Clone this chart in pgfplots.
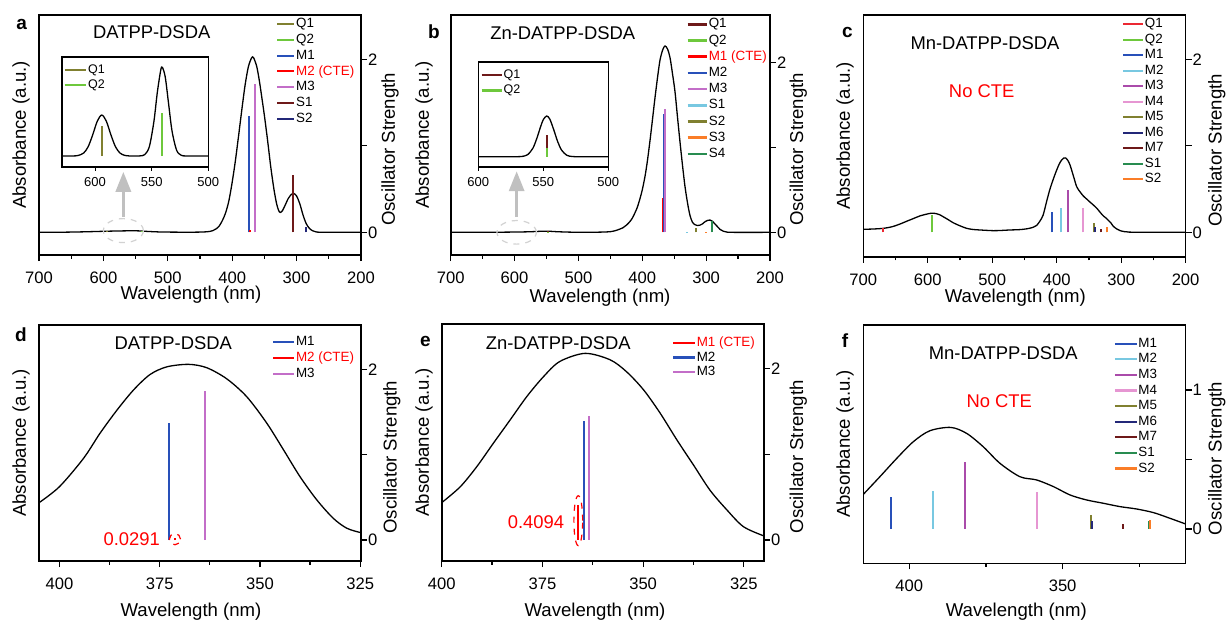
\documentclass[border=0pt]{standalone}
\usepackage{fontspec}
\setmainfont{Liberation Sans}
\usepackage{pgfplots}
\pgfplotsset{compat=1.18}
\usetikzlibrary{arrows.meta}

\definecolor{cOlive}{RGB}{128,128,48}
\definecolor{cLGreen}{RGB}{110,200,60}
\definecolor{cBlue}{RGB}{40,80,185}
\definecolor{cRed}{RGB}{255,0,0}
\definecolor{cMag}{RGB}{195,110,200}
\definecolor{cMaroon}{RGB}{110,25,25}
\definecolor{cNavy}{RGB}{35,40,120}
\definecolor{cLBlue}{RGB}{120,200,225}
\definecolor{cOrange}{RGB}{250,125,40}
\definecolor{cTeal}{RGB}{40,140,80}
\definecolor{cPurple}{RGB}{170,75,170}
\definecolor{cPink}{RGB}{230,150,210}
\definecolor{cQred}{RGB}{235,40,50}
\definecolor{cArrow}{RGB}{192,192,192}
\definecolor{cEll}{RGB}{210,210,210}

\newcommand\fLab{\fontsize{9.3}{11}\selectfont}
\newcommand\fTick{\fontsize{8.3}{10}\selectfont}
\newcommand\fLeg{\fontsize{6.7}{8}\selectfont}
\newcommand\fTitle{\fontsize{9.2}{11}\selectfont}
\newcommand\fIns{\fontsize{6.5}{8}\selectfont}
\newcommand\fInsLeg{\fontsize{6.25}{7.5}\selectfont}
\newcommand\fLet{\fontsize{9.5}{11}\selectfont\bfseries}

\pgfplotsset{
  mainax/.style={
    scale only axis, anchor=south west, x dir=reverse,
    axis line style={line width=0.8pt},
    every tick/.style={black, line width=0.6pt},
    tick align=outside, major tick length=3pt, minor tick length=1.8pt,
    xtick pos=left, ytick pos=right, yticklabel pos=right,
    ticklabel style={font=\fTick},
    xticklabel style={yshift=-2pt},
    yticklabel style={xshift=-3pt},
    /pgf/number format/assume math mode=true,
    legend cell align=left,
  },
  insax/.style={
    scale only axis, anchor=south west, x dir=reverse,
    axis line style={line width=0.8pt},
    every tick/.style={black, line width=0.5pt},
    tick align=outside, major tick length=2pt,
    xtick pos=left, ytick=\empty,
    ticklabel style={font=\fIns},
    /pgf/number format/assume math mode=true,
    axis background/.style={fill=white},
    legend cell align=left,
  },
  stick/.style={line width=1pt, color=#1},
  curve/.style={black, line width=0.65pt, smooth, forget plot},
}

\begin{document}
\begin{tikzpicture}
\useasboundingbox (0pt,0pt) rectangle (613pt,-311pt);

% ---------------- panel a ----------------
\begin{axis}[mainax, at={(19.5pt,-127.5pt)}, width=161pt, height=120pt,
  xmin=200, xmax=700, ymin=-0.262, ymax=2.512,
  xtick={200,300,400,500,600,700}, minor xtick={250,350,450,550,650},
  ytick={0,1,2}, yticklabels={0,,2},
  legend image code/.code={\draw[#1] (0pt,0pt) -- (8.5pt,0pt);},
  legend style={at={(0.736,0.992)}, anchor=north west, draw=none, fill=none, inner sep=0pt, font=\fLeg, row sep=0.85pt, nodes={inner sep=0.4pt, text height=4.9pt, text depth=1.3pt}}]
\addplot[curve] coordinates {(700,0) (660,0.002) (630,0.006) (600,0.012) (575,0.016) (550,0.018) (530,0.01) (510,0.004) (480,0.002) (460,0.002) (445,0.004) (435,0.01) (430,0.02) (425,0.04) (420,0.075) (415,0.14) (410,0.23) (405,0.37) (400,0.58) (395,0.83) (390,1.12) (385,1.42) (380,1.70) (375,1.91) (370,2.015) (367,2.02) (362,1.92) (358,1.76) (355,1.61) (350,1.35) (345,1.06) (340,0.75) (335,0.49) (331,0.33) (328,0.255) (325.5,0.23) (322,0.25) (318,0.31) (313,0.39) (308,0.44) (304.5,0.45) (300,0.42) (295,0.33) (290,0.2) (285,0.1) (280,0.045) (275,0.018) (270,0.006) (260,0.001) (200,0)};
\addplot[stick=cOlive] coordinates {(594,0) (594,0.012)};
\addplot[stick=cLGreen] coordinates {(540.6,0) (540.6,0.02)};
\addplot[stick=cBlue] coordinates {(374.5,0) (374.5,1.35)};
\addplot[stick=cRed] coordinates {(372.4,0) (372.4,0.0291)};
\addplot[stick=cMag] coordinates {(364.8,0) (364.8,1.72)};
\addplot[stick=cMaroon] coordinates {(305.5,0) (305.5,0.66)};
\addplot[stick=cNavy] coordinates {(285.8,0) (285.8,0.06)};
\legend{Q1,Q2,M1,\textcolor{red}{M2 (CTE)},M3,S1,S2}
\draw[cEll, dashed, line width=0.6pt] (axis cs:569,0.02) ellipse [x radius=10pt, y radius=6pt];
\draw[cArrow, line width=1.6pt, -{Triangle[width=7.5pt,length=10pt]}] (axis cs:569,0.18) -- (axis cs:569,0.70);
\end{axis}

% inset a
\begin{axis}[insax, at={(30.85pt,-83.35pt)}, width=73.3pt, height=55pt,
  xmin=500, xmax=629.4, ymin=-10.7, ymax=99.3, xtick={500,550,600},
  legend image code/.code={\draw[#1] (0pt,0pt) -- (10.8pt,0pt);},
  legend style={at={(0.011,0.94)}, anchor=north west, draw=none, fill=none, inner sep=0pt, font=\fInsLeg, row sep=0.5pt, nodes={inner sep=0.4pt, text height=4.7pt, text depth=1.2pt}}]
\addplot[curve] coordinates {(629.4,0) (620,0.04) (615,0.5) (610,3.0) (606,9.4) (602,21.3) (598,34.8) (594,41) (590,34.8) (586,21.3) (582,9.4) (578,3.0) (574,0.7) (570,0.1) (565,0) (560,0.14) (556,1.5) (552,9.5) (548,34.6) (545,63.6) (542,85.8) (540.6,88.7) (538,79.0) (535,51.8) (532,24.9) (528,5.8) (524,0.8) (520,0.06) (510,0) (500,0)};
\addplot[stick=cOlive] coordinates {(594,0) (594,30)};
\addplot[stick=cLGreen] coordinates {(540.6,0) (540.6,43.3)};
\legend{Q1,Q2}
\end{axis}

% ---------------- panel b ----------------
\begin{axis}[mainax, at={(225.35pt,-127.5pt)}, width=159.65pt, height=120pt,
  xmin=200, xmax=700, ymin=-0.267, ymax=2.56,
  xtick={200,300,400,500,600,700}, minor xtick={250,350,450,550,650},
  ytick={0,1,2}, yticklabels={0,,2},
  legend image code/.code={\draw[#1, line width=1.3pt] (0pt,0pt) -- (9.5pt,0pt);},
  legend style={at={(0.737,0.992)}, anchor=north west, draw=none, fill=none, inner sep=0pt, font=\fLeg, row sep=1.1pt, nodes={inner sep=0.4pt, text height=4.9pt, text depth=1.3pt}}]
\addplot[curve] coordinates {(700,0) (620,0.002) (580,0.006) (560,0.012) (548,0.014) (535,0.008) (510,0.002) (470,0.002) (450,0.008) (440,0.025) (430,0.055) (424,0.09) (418,0.14) (414,0.19) (408,0.29) (403.5,0.40) (400,0.50) (395.7,0.66) (392,0.84) (387.9,1.08) (384,1.33) (380,1.59) (376,1.83) (372.2,2.03) (368,2.15) (364.4,2.195) (360.5,2.16) (356.6,2.06) (352.7,1.87) (348.8,1.66) (345,1.37) (341,1.07) (337,0.79) (333.1,0.54) (329,0.34) (325.3,0.2) (321.5,0.12) (317.4,0.09) (313.5,0.08) (309.6,0.085) (305.7,0.1) (301.8,0.125) (298,0.14) (294,0.145) (290,0.13) (286.1,0.098) (282,0.065) (278.3,0.035) (273,0.013) (267.8,0.004) (260,0) (200,0)};
\addplot[stick=cMaroon] coordinates {(547,0) (547,0.01)};
\addplot[stick=cLGreen] coordinates {(547,0) (547,0.005)};
\addplot[stick=cRed] coordinates {(367,0) (367,0.4094)};
\addplot[stick=cBlue] coordinates {(365.4,0) (365.4,1.39)};
\addplot[stick=cMag] coordinates {(364,0) (364,1.45)};
\addplot[stick=cLBlue] coordinates {(330,0) (330,0.004)};
\addplot[stick=cOlive] coordinates {(315.5,0) (315.5,0.055)};
\addplot[stick=cOrange] coordinates {(300,0) (300,0.006)};
\addplot[stick=cTeal] coordinates {(291.3,0) (291.3,0.13)};
\legend{Q1,Q2,\textcolor{red}{M1 (CTE)},M2,M3,S1,S2,S3,S4}
\draw[cEll, dashed, line width=0.6pt] (axis cs:596.7,0) ellipse [x radius=9.85pt, y radius=5.9pt];
\draw[cArrow, line width=1.6pt, -{Triangle[width=7.5pt,length=10pt]}] (axis cs:596.7,0.18) -- (axis cs:596.7,0.72);
\end{axis}

% inset b
\begin{axis}[insax, at={(239.15pt,-83.35pt)}, width=65pt, height=52.5pt,
  xmin=500, xmax=600, ymin=-10, ymax=95, xtick={500,550,600},
  legend image code/.code={\draw[#1, line width=1.2pt] (0pt,0pt) -- (10pt,0pt);},
  legend style={at={(0.013,0.943)}, anchor=north west, draw=none, fill=none, inner sep=0pt, font=\fInsLeg, row sep=1.1pt, nodes={inner sep=0.4pt, text height=4.7pt, text depth=1.2pt}}]
\addplot[curve] coordinates {(600,0) (575,0) (570,0.03) (566,0.33) (562,2.1) (558,8.5) (555,18.3) (552,30.3) (550,37.1) (547.4,40.7) (545,37.6) (542,27.1) (539,15.3) (536,6.7) (532,1.5) (528,0.22) (524,0.02) (520,0) (500,0)};
\addplot[stick=cMaroon] coordinates {(547,0) (547,21.7)};
\addplot[stick=cLGreen] coordinates {(547,0) (547,8.3)};
\legend{Q1,Q2}
\end{axis}

% ---------------- panel c ----------------
\begin{axis}[mainax, at={(431.65pt,-128.35pt)}, width=161.15pt, height=120.85pt,
  xmin=200, xmax=700, ymin=-0.282, ymax=2.512,
  xtick={200,300,400,500,600,700}, minor xtick={250,350,450,550,650},
  ytick={0,1,2}, yticklabels={0,,2},
  legend image code/.code={\draw[#1] (0pt,0pt) -- (10pt,0pt);},
  legend style={at={(0.802,0.992)}, anchor=north west, draw=none, fill=none, inner sep=0pt, font=\fLeg, row sep=0.75pt, nodes={inner sep=0.4pt, text height=4.9pt, text depth=1.3pt}}]
\addplot[curve] coordinates {(700,0.035) (685,0.038) (669,0.046) (655,0.065) (643,0.096) (632,0.13) (622,0.16) (612,0.19) (601.8,0.21) (595,0.22) (588,0.218) (582,0.205) (576,0.18) (568,0.145) (560.4,0.11) (550,0.075) (539.7,0.046) (530,0.033) (519,0.027) (498.4,0.019) (485,0.022) (472.5,0.027) (460,0.03) (451.8,0.035) (443,0.045) (436,0.06) (431,0.08) (426,0.13) (421,0.2) (415.5,0.36) (410.4,0.5) (405,0.62) (400,0.72) (396,0.79) (392.3,0.836) (389,0.858) (386,0.86) (383,0.835) (379.4,0.78) (374,0.65) (369,0.528) (364,0.47) (358.7,0.42) (353.5,0.385) (348.4,0.35) (343,0.315) (338,0.28) (333,0.235) (327.7,0.19) (323.5,0.165) (320,0.14) (316,0.11) (312.2,0.07) (307,0.04) (301.8,0.02) (295,0.008) (285,0.002) (281.2,0) (200,0)};
\addplot[stick=cQred] coordinates {(669,0) (669,0.046)};
\addplot[stick=cLGreen] coordinates {(594,0) (594,0.2)};
\addplot[stick=cBlue] coordinates {(406.5,0) (406.5,0.238)};
\addplot[stick=cLBlue] coordinates {(393.7,0) (393.7,0.277)};
\addplot[stick=cPurple] coordinates {(382.5,0) (382.5,0.489)};
\addplot[stick=cPink] coordinates {(358.8,0) (358.8,0.277)};
\addplot[stick=cOlive] coordinates {(341.8,0) (341.8,0.104)};
\addplot[stick=cNavy] coordinates {(341.3,0) (341.3,0.056)};
\addplot[stick=cMaroon] coordinates {(331.4,0) (331.4,0.033)};
\addplot[stick=cTeal] coordinates {(322.4,0) (322.4,0.06)};
\addplot[stick=cOrange] coordinates {(321.8,0) (321.8,0.066)};
\legend{Q1,Q2,M1,M2,M3,M4,M5,M6,M7,S1,S2}
\end{axis}

% ---------------- panel d ----------------
\begin{axis}[mainax, at={(19.5pt,-280.5pt)}, width=161pt, height=118pt,
  xmin=324.8, xmax=405.1, ymin=-0.246, ymax=2.52,
  xtick={325,350,375,400}, minor xtick={337.5,362.5,387.5},
  ytick={0,1,2}, yticklabels={0,,2},
  legend image code/.code={\draw[#1] (0pt,0pt) -- (10.5pt,0pt);},
  legend style={at={(0.723,0.959)}, anchor=north west, draw=none, fill=none, inner sep=0pt, font=\fLeg, row sep=0.9pt, nodes={inner sep=0.4pt, text height=4.9pt, text depth=1.3pt}}]
\addplot[curve] coordinates {(405.1,0.437) (400,0.625) (394,0.957) (389.9,1.25) (385.7,1.52) (381.5,1.76) (377.4,1.94) (373.2,2.03) (367.8,2.059) (363.3,2.02) (358.3,1.89) (353.3,1.68) (348.3,1.37) (344.1,1.055) (340,0.742) (335.8,0.469) (331.7,0.254) (328.3,0.137) (324.8,0.086)};
\addplot[stick=cBlue] coordinates {(372.8,0) (372.8,1.367)};
\addplot[stick=cRed] coordinates {(371.3,0) (371.3,0.0291)};
\addplot[stick=cMag] coordinates {(363.8,0) (363.8,1.746)};
\legend{M1,\textcolor{red}{M2 (CTE)},M3}
\draw[red, dashed, line width=0.6pt] (axis cs:371.2,0.01) circle [radius=2.8pt];
\end{axis}

% ---------------- panel e ----------------
\begin{axis}[mainax, at={(220.85pt,-280.5pt)}, width=161.15pt, height=118.5pt,
  xmin=320, xmax=400, ymin=-0.245, ymax=2.517,
  xtick={325,350,375,400}, minor xtick={337.5,362.5,387.5},
  ytick={0,1,2}, yticklabels={0,,2},
  legend image code/.code={\draw[#1, line width=1.1pt] (0pt,0pt) -- (10.8pt,0pt);},
  legend style={at={(0.714,0.952)}, anchor=north west, draw=none, fill=none, inner sep=0pt, font=\fLeg, row sep=0.4pt, nodes={inner sep=0.4pt, text height=4.9pt, text depth=1.3pt}}]
\addplot[curve] coordinates {(400,0.435) (395.4,0.62) (391.3,0.854) (387.2,1.126) (383,1.40) (378.9,1.67) (374.8,1.90) (370.7,2.08) (364.4,2.175) (358.2,2.10) (354.1,1.96) (349.9,1.75) (345.8,1.48) (341.6,1.165) (337.5,0.874) (333.4,0.58) (329.2,0.35) (325.1,0.155) (320,0.047)};
\addplot[stick=cRed] coordinates {(366.1,0) (366.1,0.4094)};
\addplot[stick=cBlue] coordinates {(364.7,0) (364.7,1.39)};
\addplot[stick=cMag] coordinates {(363.5,0) (363.5,1.445)};
\legend{\textcolor{red}{M1 (CTE)},M2,M3}
\draw[red, dashed, line width=0.6pt] (axis cs:366.1,0.225) ellipse [x radius=2.2pt, y radius=12.5pt];
\end{axis}

% ---------------- panel f ----------------
\begin{axis}[mainax, at={(431.65pt,-281.65pt)}, width=161.15pt, height=119.15pt,
  xmin=309.9, xmax=415, ymin=-0.247, ymax=1.468,
  xtick={350,400}, minor xtick={325,375},
  ytick={0,0.5,1}, yticklabels={0,,1},
  legend image code/.code={\draw[#1, line width=1.1pt] (0pt,0pt) -- (10.8pt,0pt);},
  legend style={at={(0.776,0.953)}, anchor=north west, draw=none, fill=none, inner sep=0pt, font=\fLeg, row sep=0.8pt, nodes={inner sep=0.4pt, text height=4.9pt, text depth=1.3pt}}]
\addplot[curve] coordinates {(415,0.249) (409.6,0.376) (404.1,0.508) (398.7,0.628) (393.3,0.707) (386.5,0.731) (381.3,0.688) (375.9,0.592) (370.4,0.472) (363.9,0.376) (358.5,0.353) (353,0.305) (347.6,0.245) (342.2,0.209) (336.7,0.185) (331.3,0.161) (325.9,0.144) (320.4,0.118) (315,0.077) (309.9,0.036)};
\addplot[stick=cBlue] coordinates {(405.9,0) (405.9,0.233)};
\addplot[stick=cLBlue] coordinates {(392.2,0) (392.2,0.276)};
\addplot[stick=cPurple] coordinates {(381.8,0) (381.8,0.48)};
\addplot[stick=cPink] coordinates {(358.2,0) (358.2,0.269)};
\addplot[stick=cOlive] coordinates {(340.9,0) (340.9,0.10)};
\addplot[stick=cNavy] coordinates {(340.4,0) (340.4,0.06)};
\addplot[stick=cMaroon] coordinates {(330.4,0) (330.4,0.034)};
\addplot[stick=cTeal] coordinates {(322,0) (322,0.06)};
\addplot[stick=cOrange] coordinates {(321.4,0) (321.4,0.065)};
\legend{M1,M2,M3,M4,M5,M6,M7,S1,S2}
\end{axis}

% ---------------- texts (pixel coordinates) ----------------
\begin{scope}[x=0.5pt,y=-0.5pt]
% panel letters
\node[font=\fLet] at (21.7,24) {a};
\node[font=\fLet] at (434,31.7) {b};
\node[font=\fLet] at (847.3,32.3) {c};
\node[font=\fLet] at (21,335) {d};
\node[font=\fLet] at (425.3,341.7) {e};
\node[font=\fLet] at (845,340.7) {f};
% titles
\node[font=\fTitle] at (151.7,32.3) {DATPP-DSDA};
\node[font=\fTitle] at (562.7,33.3) {Zn-DATPP-DSDA};
\node[font=\fTitle] at (985,43.3) {Mn-DATPP-DSDA};
\node[font=\fTitle] at (173.3,343.3) {DATPP-DSDA};
\node[font=\fTitle] at (558.3,343.3) {Zn-DATPP-DSDA};
\node[font=\fTitle] at (1003.3,352.7) {Mn-DATPP-DSDA};
\node[font=\fTitle, text=red] at (981.7,90.7) {No CTE};
\node[font=\fTitle, text=red] at (999.3,400.7) {No CTE};
\node[font=\fTitle, text=red] at (131.7,539.3) {0.0291};
\node[font=\fTitle, text=red] at (536,521.7) {0.4094};
% x labels
\node[font=\fLab] at (191,295) {Wavelength (nm)};
\node[font=\fLab] at (600,298) {Wavelength (nm)};
\node[font=\fLab] at (1015.3,298) {Wavelength (nm)};
\node[font=\fLab] at (191,612) {Wavelength (nm)};
\node[font=\fLab] at (595,612) {Wavelength (nm)};
\node[font=\fLab] at (1016.3,612) {Wavelength (nm)};
% left y labels
\node[font=\fLab, rotate=90] at (21,135) {Absorbance (a.u.)};
\node[font=\fLab, rotate=90] at (424,135) {Absorbance (a.u.)};
\node[font=\fLab, rotate=90] at (845,136) {Absorbance (a.u.)};
\node[font=\fLab, rotate=90] at (21,443) {Absorbance (a.u.)};
\node[font=\fLab, rotate=90] at (424,442.5) {Absorbance (a.u.)};
\node[font=\fLab, rotate=90] at (845,444) {Absorbance (a.u.)};
% right y labels
\node[font=\fLab, rotate=90] at (390,149.4) {Oscillator Strength};
\node[font=\fLab, rotate=90] at (798.3,149.4) {Oscillator Strength};
\node[font=\fLab, rotate=90] at (1216.7,150.3) {Oscillator Strength};
\node[font=\fLab, rotate=90] at (391.7,457.2) {Oscillator Strength};
\node[font=\fLab, rotate=90] at (798.3,456.7) {Oscillator Strength};
\node[font=\fLab, rotate=90] at (1216.7,458.5) {Oscillator Strength};
\end{scope}
\end{tikzpicture}
\end{document}
